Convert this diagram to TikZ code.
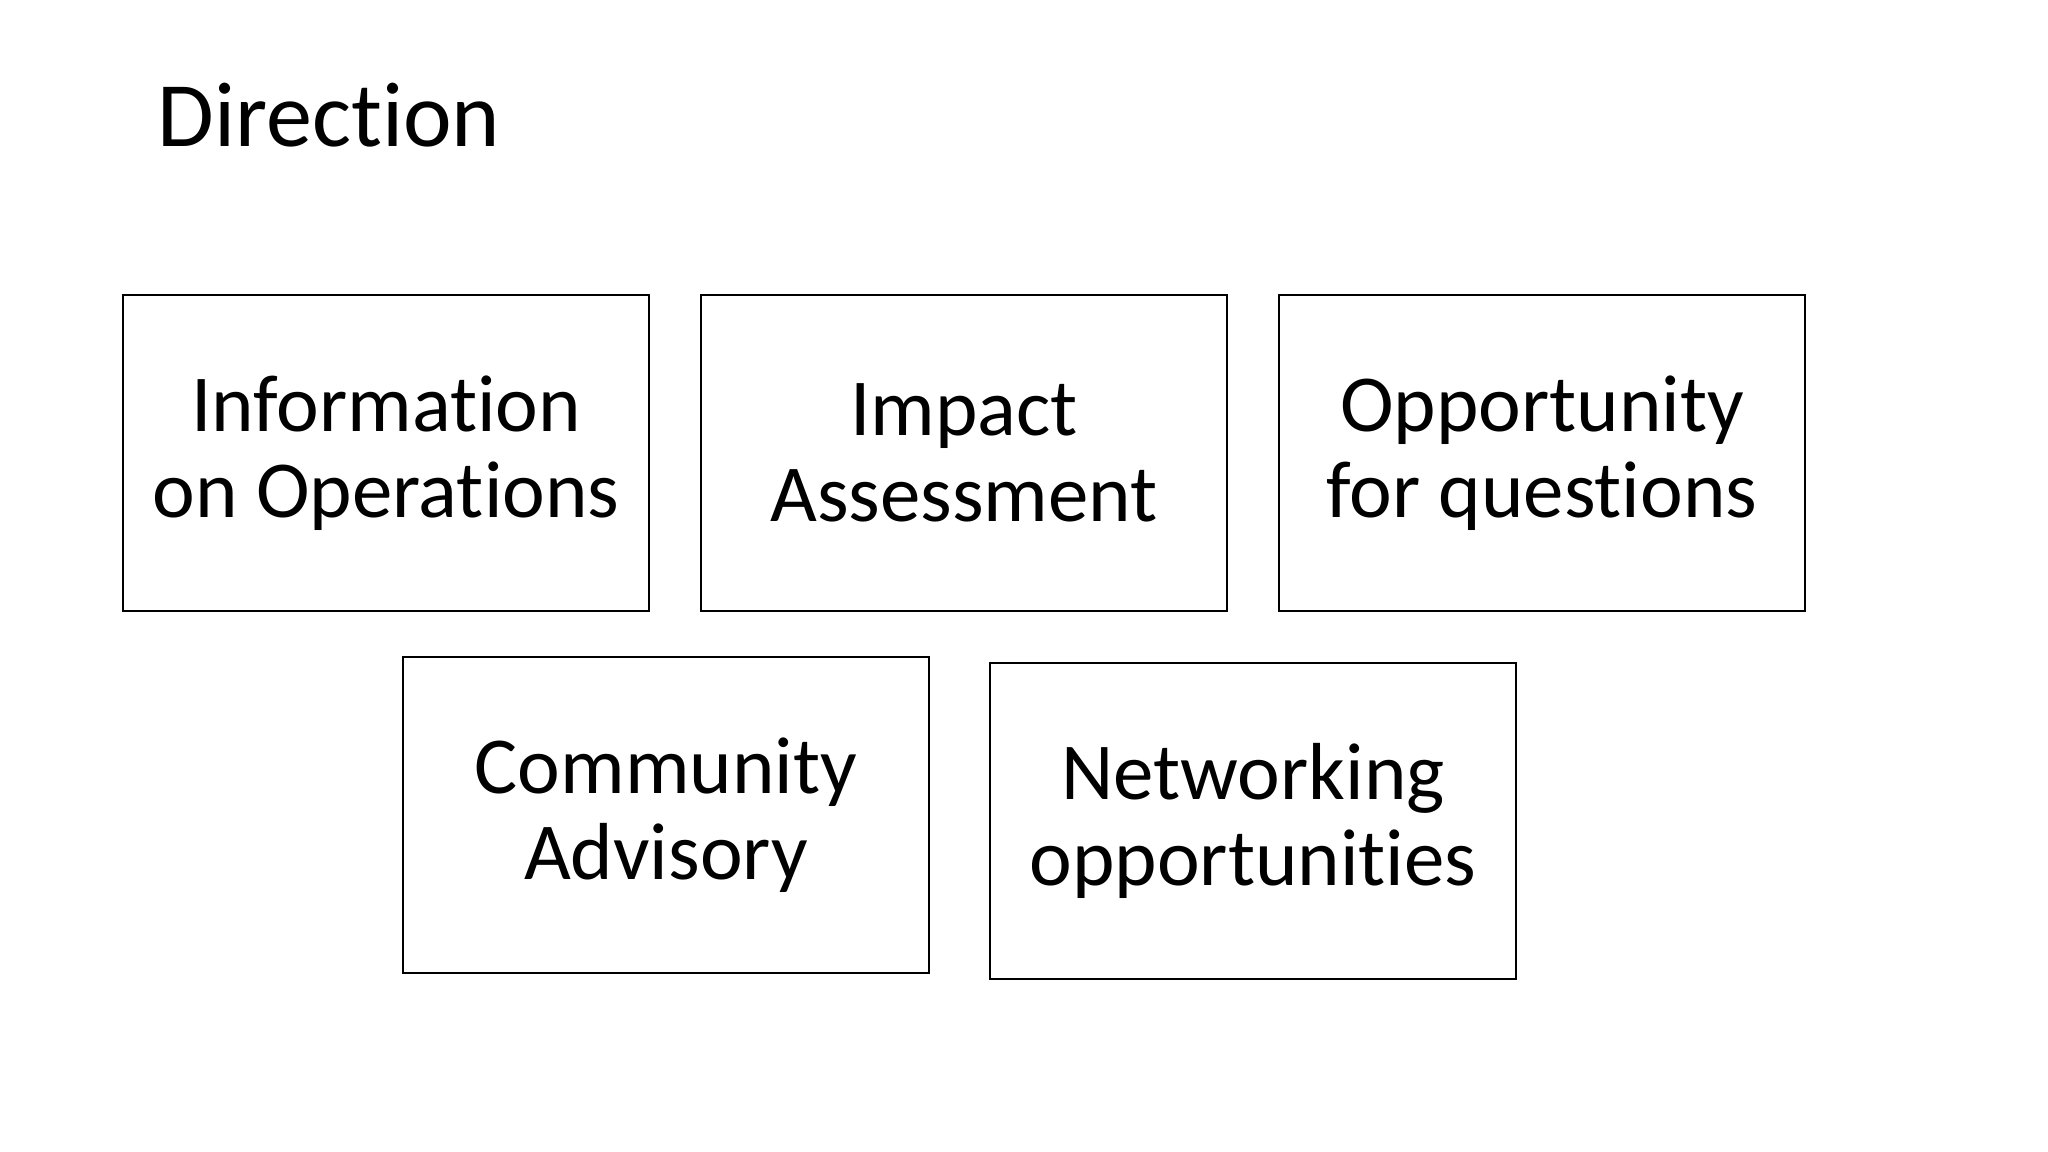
\documentclass[tikz,border=0pt]{standalone}
\usepackage{fontspec}
\setmainfont[Ligatures=NoCommon]{Carlito}
\usepackage{tikz}

\begin{document}
\begin{tikzpicture}[x=0.01cm,y=-0.01cm]
	\tikzset{item/.style={draw,line width=0.6pt,rectangle,minimum width=5.26cm,minimum height=3.15cm,align=center,inner sep=0pt,font=\fontsize{23}{24.6}\selectfont}}
	\tikzset{heading/.style={anchor=base west,inner sep=0pt,font=\fontsize{26.2}{30}\selectfont}}
	
	\useasboundingbox (0,0) rectangle (2048,1152);
	
	\node(title) at (157,147) [heading] {Direction};
	
	\node(info) at (386,453) [item] {Information\\on Operations};
	\node(impact) at (964,453) [item] {Impact\\Assessment};
	\node(questions) at (1542,453) [item] {Opportunity\\for questions};
	
	\node(advisory) at (666,815) [item] {Community\\Advisory};
	\node(network) at (1253,821) [item] {Networking\\opportunities};
	
\end{tikzpicture}
\end{document}
